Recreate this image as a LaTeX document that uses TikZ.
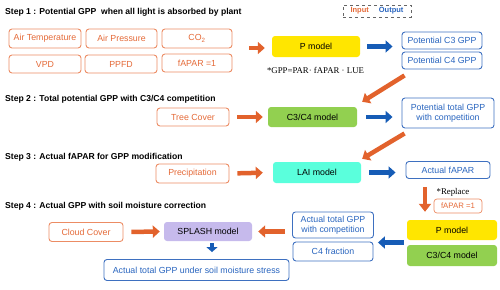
\documentclass[tikz,border=0pt]{standalone}
\usepackage{fontspec}
\setmainfont{Liberation Sans}
\newfontfamily\serifnote{Liberation Serif}
\usetikzlibrary{arrows.meta,calc}
\definecolor{oarrc}{RGB}{226,98,44}
\definecolor{intext}{RGB}{228,105,55}
\definecolor{inborder}{RGB}{236,140,100}
\definecolor{barrc}{RGB}{22,92,182}
\definecolor{outtext}{RGB}{40,100,190}
\definecolor{outborder}{RGB}{62,112,192}
\definecolor{pyellow}{RGB}{255,230,0}
\definecolor{pgreen}{RGB}{146,208,80}
\definecolor{paqua}{RGB}{90,255,220}
\definecolor{ppurple}{RGB}{198,186,236}
\tikzset{
  x=1pt,y=-1pt,
  basebox/.style={rounded corners=3pt, inner sep=1pt, align=center, font=\fontsize{8.8}{10.5}\selectfont},
  inbox/.style={basebox, draw=inborder, line width=0.9pt, text=intext},
  outbox/.style={basebox, draw=outborder, line width=0.9pt, text=outtext},
  modelbox/.style={basebox, text=black},
  steptitle/.style={anchor=west, inner sep=0pt, font=\bfseries\fontsize{8.6}{10}\selectfont},
  note/.style={inner sep=0pt, font=\serifnote\fontsize{8.8}{10}\selectfont},
  oarr/.style={draw=oarrc, line width=4.5pt, -{Triangle[width=12pt,length=7pt]}},
  barr/.style={draw=barrc, line width=4.5pt, -{Triangle[width=12pt,length=7pt]}},
}
\begin{document}
\begin{tikzpicture}
\useasboundingbox (0,0) rectangle (500,289);
% Legend
\node[draw=gray!80!black, dashed, line width=0.5pt, minimum width=68pt, minimum height=12pt, inner sep=0pt,
  font=\bfseries\fontsize{7.5}{8}\selectfont] (legend) at (377,11)
  {\textcolor{intext}{Input}\hspace{10pt}\textcolor{outtext}{Output}};
% Step titles
\node[steptitle] (s1) at (5,12) {Step 1 : Potential GPP\ \ when all light is absorbed by plant};
\node[steptitle] (s2) at (5,99) {Step 2 : Total potential GPP with C3/C4 competition};
\node[steptitle] (s3) at (5,157) {Step 3 : Actual fAPAR for GPP modification};
\node[steptitle] (s4) at (5,206) {Step 4 : Actual GPP with soil moisture correction};
% Step 1
\node[inbox, minimum width=72pt, minimum height=19pt] (airt) at (45,38.5) {Air Temperature};
\node[inbox, minimum width=71pt, minimum height=19pt] (airp) at (121.5,38.5) {Air Pressure};
\node[inbox, minimum width=70pt, minimum height=19pt] (co2) at (197,38.5) {CO\textsubscript{2}};
\node[inbox, minimum width=72pt, minimum height=18pt] (vpd) at (45,64) {VPD};
\node[inbox, minimum width=72pt, minimum height=18pt] (ppfd) at (121,64) {PPFD};
\node[inbox, minimum width=70pt, minimum height=18pt] (fapar) at (197,63) {fAPAR =1};
\coordinate (ingroup) at (232,48);
\node[modelbox, fill=pyellow, minimum width=88pt, minimum height=21pt] (pm) at (316,46.5) {P model};
\node[note] (gppnote) at (315.5,70.5) {*GPP=PAR· fAPAR · LUE};
\node[outbox, minimum width=80pt, minimum height=17pt] (c3pot) at (442,40.5) {Potential C3 GPP};
\node[outbox, minimum width=80pt, minimum height=17pt] (c4pot) at (442,60.5) {Potential C4 GPP};
\draw[oarr, shorten <=17pt, shorten >=7pt] (ingroup) -- (ingroup -| pm.west);
\draw[barr, shorten <=7pt, shorten >=9pt] (pm.east) -- (pm.east -| c3pot.west);
% Step 2
\node[inbox, minimum width=72pt, minimum height=18pt] (tree) at (193,117) {Tree Cover};
\node[modelbox, fill=pgreen, minimum width=89pt, minimum height=20pt] (c34) at (312.5,117) {C3/C4 model};
\node[outbox, minimum width=92pt, minimum height=30pt] (ptot) at (448,113) {Potential total GPP\\with competition};
\draw[oarr] ([xshift=3pt,yshift=-6pt]c4pot.south west) -- ([xshift=5pt,yshift=5pt]c34.north east);
\draw[oarr, shorten <=8pt, shorten >=5pt] (tree.east) -- (c34.west);
\draw[barr, shorten <=9pt, shorten >=9pt] (c34.east) -- (c34.east -| ptot.west);
% Step 3
\node[inbox, minimum width=73pt, minimum height=19pt] (precip) at (192.5,173.5) {Precipitation};
\node[modelbox, fill=paqua, minimum width=88pt, minimum height=21pt] (lai) at (317,172.5) {LAI model};
\node[outbox, minimum width=84pt, minimum height=17pt] (afapar) at (448,170) {Actual fAPAR};
\draw[oarr] ([xshift=3pt,yshift=-5pt]ptot.south west) -- ([xshift=1pt,yshift=3pt]lai.north east);
\draw[oarr, shorten <=8pt, shorten >=10pt] (precip.east) -- (lai.west);
\draw[barr, shorten <=8pt, shorten >=10pt] (lai.east) -- (lai.east -| afapar.west);
% Step 4
\node[modelbox, fill=pyellow, minimum width=90pt, minimum height=20pt] (pm2) at (452,230) {P model};
\node[modelbox, fill=pgreen, minimum width=90pt, minimum height=21pt] (c34b) at (452,255.5) {C3/C4 model};
\node[note] (repl) at (453,192) {*Replace};
\node[inbox, line width=0.7pt, minimum width=48pt, minimum height=14pt, font=\fontsize{7.8}{8}\selectfont] (fapar2) at (458,206) {fAPAR =1};
\draw[oarr, -{Triangle[width=12pt,length=8pt]}] ([xshift=-23pt,yshift=-8pt]afapar.south) -- ([xshift=-27pt,yshift=8pt]pm2.north);
\node[outbox, minimum width=81pt, minimum height=26pt] (atg) at (333,225) {Actual total GPP\\with competition};
\node[outbox, minimum width=80pt, minimum height=19pt] (c4f) at (333,251.5) {C4 fraction};
\coordinate (pgroup) at ($(pm2.south west)!0.5!(c34b.north west)$);
\draw[barr, shorten <=3pt, shorten >=4pt] (pgroup) -- (pgroup -| atg.east);
\node[modelbox, fill=ppurple, minimum width=88pt, minimum height=19pt] (splash) at (208,231.5) {SPLASH model};
\node[inbox, minimum width=74pt, minimum height=19pt] (cloud) at (86,232) {Cloud Cover};
\node[outbox, minimum width=185pt, minimum height=21pt] (final) at (196.5,270) {Actual total GPP under soil moisture stress};
\draw[oarr, shorten <=7pt, shorten >=6pt] (splash.east -| atg.west) -- (splash.east);
\draw[oarr, shorten <=8pt, shorten >=4pt] (cloud.east) -- (splash.west);
\coordinate (dtop) at ([xshift=4pt]splash.south);
\coordinate (dbot) at (dtop |- final.north);
\draw[barr, line width=4pt, -{Triangle[width=11pt,length=5pt]}, shorten <=2pt, shorten >=7pt] (dtop) -- (dbot);
\end{tikzpicture}
\end{document}
